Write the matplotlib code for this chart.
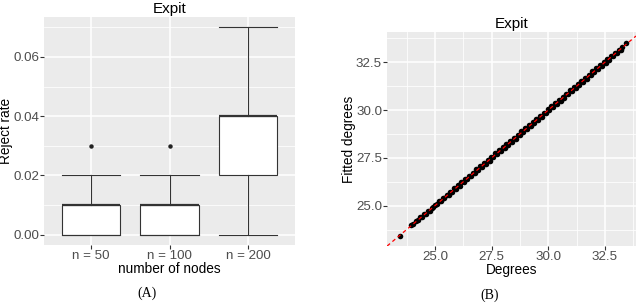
import matplotlib
matplotlib.use("Agg")
import matplotlib.pyplot as plt
from matplotlib.ticker import MultipleLocator

plt.rcParams["font.family"] = ["Liberation Sans", "DejaVu Sans"]

# panel A: reject rate box summaries
groups = ["n = 50", "n = 100", "n = 200"]
whis_lo = [0.00, 0.00, 0.00]
q1 = [0.00, 0.00, 0.02]
median = [0.01, 0.01, 0.04]
q3 = [0.01, 0.01, 0.04]
whis_hi = [0.02, 0.02, 0.07]
outliers = [[0.03], [0.03], []]

# panel B: degrees vs fitted degrees
degrees = [23.45, 23.95, 24.05, 24.18, 24.27, 24.35, 24.44, 24.52, 24.61, 24.68,
           24.77, 24.85, 24.93, 25.02, 25.10, 25.19, 25.26, 25.35, 25.42, 25.51,
           25.60, 25.67, 25.76, 25.84, 25.92, 26.01, 26.09, 26.17, 26.26, 26.34,
           26.42, 26.50, 26.59, 26.67, 26.75, 26.83, 26.92, 27.00, 27.08, 27.16,
           27.25, 27.33, 27.41, 27.49, 27.58, 27.66, 27.74, 27.82, 27.91, 27.99,
           28.07, 28.15, 28.24, 28.32, 28.40, 28.48, 28.57, 28.65, 28.73, 28.81,
           28.90, 28.98, 29.06, 29.14, 29.23, 29.31, 29.39, 29.47, 29.56, 29.64,
           29.72, 29.80, 29.89, 29.97, 30.05, 30.13, 30.22, 30.30, 30.38, 30.46,
           30.55, 30.63, 30.71, 30.79, 30.88, 30.96, 31.04, 31.12, 31.21, 31.29,
           31.37, 31.45, 31.54, 31.62, 31.70, 31.78, 31.87, 31.95, 32.03, 32.11,
           32.20, 32.28, 32.36, 32.44, 32.53, 32.61, 32.69, 32.77, 32.86, 32.94,
           33.02, 33.10, 33.19, 33.27, 33.45]
fitted = [23.42, 24.00, 24.02, 24.22, 24.25, 24.40, 24.41, 24.57, 24.58, 24.72,
          24.74, 24.90, 24.91, 25.06, 25.07, 25.24, 25.22, 25.40, 25.39, 25.57,
          25.56, 25.72, 25.73, 25.90, 25.88, 26.06, 26.05, 26.23, 26.22, 26.40,
          26.38, 26.56, 26.54, 26.73, 26.70, 26.90, 26.87, 27.06, 27.03, 27.23,
          27.20, 27.40, 27.36, 27.56, 27.52, 27.73, 27.69, 27.89, 27.85, 28.06,
          28.02, 28.22, 28.18, 28.39, 28.35, 28.55, 28.51, 28.72, 28.67, 28.88,
          28.84, 29.05, 29.00, 29.21, 29.17, 29.38, 29.33, 29.54, 29.50, 29.71,
          29.66, 29.87, 29.83, 30.04, 29.99, 30.20, 30.16, 30.37, 30.32, 30.53,
          30.49, 30.70, 30.65, 30.86, 30.82, 31.03, 30.98, 31.19, 31.15, 31.36,
          31.31, 31.52, 31.48, 31.69, 31.64, 31.85, 31.81, 32.02, 31.97, 32.18,
          32.14, 32.35, 32.30, 32.51, 32.47, 32.67, 32.64, 32.83, 32.81, 32.99,
          32.98, 33.14, 33.16, 33.30, 33.50]

W, H = 640, 303
BG = "#EBEBEB"
TICK = "#4D4D4D"
FS_TICK = 9.6
FS_LAB = 9.8
FS_TITLE = 11


def gg_axes(ax):
    ax.set_facecolor(BG)
    for s in ax.spines.values():
        s.set_visible(False)
    ax.grid(True, which="major", color="white", lw=1.1)
    ax.grid(True, which="minor", color="white", lw=0.55)
    ax.set_axisbelow(True)
    ax.tick_params(which="major", length=2.7, width=0.8, color="#333333",
                   labelcolor=TICK, labelsize=FS_TICK, pad=0.6)
    ax.tick_params(which="minor", length=0)


fig = plt.figure(figsize=(W / 100, H / 100), dpi=100)

# ---- (A) boxplot
ax1 = fig.add_axes([44 / W, 1 - 245 / H, 251 / W, 228 / H])
gg_axes(ax1)
stats = []
for i, g in enumerate(groups):
    stats.append(dict(label=g, whislo=whis_lo[i], q1=q1[i], med=median[i],
                      q3=q3[i], whishi=whis_hi[i], fliers=outliers[i]))
pos = list(range(1, len(groups) + 1))
ax1.bxp(stats, positions=pos, widths=0.75, patch_artist=True,
        boxprops=dict(facecolor="white", edgecolor="#333333", lw=0.8),
        medianprops=dict(color="#333333", lw=1.6),
        whiskerprops=dict(color="#333333", lw=0.8),
        capprops=dict(color="#333333", lw=0.8), capwidths=0.75,
        flierprops=dict(marker="o", markersize=2.2, markerfacecolor="#222222",
                        markeredgecolor="#222222"))
ax1.set_xlim(0.4, 3.6)
ax1.set_ylim(-0.0035, 0.0735)
ax1.yaxis.set_minor_locator(MultipleLocator(0.01))
ax1.set_yticks([0, 0.02, 0.04, 0.06])
ax1.set_yticklabels(["0.00", "0.02", "0.04", "0.06"])
ax1.set_xticks(pos)
ax1.set_xticklabels(groups)
ax1.set_title("Expit", fontsize=FS_TITLE, pad=3)
ax1.set_xlabel("number of nodes", fontsize=FS_LAB, labelpad=0)
ax1.set_ylabel("Reject rate", fontsize=FS_LAB, labelpad=0)
fig.text(147 / W, 1 - 293 / H, "(A)", family="Liberation Serif", fontsize=10,
         ha="center", va="center")

# ---- (B) scatter with identity line
ax2 = fig.add_axes([386.7 / W, 1 - 246 / H, 249.3 / W, 214 / H])
gg_axes(ax2)
ax2.scatter(degrees, fitted, s=16, color="black", lw=0, zorder=2)
ax2.axline((25, 25), slope=1, color="red", lw=0.9, ls=(0, (3, 2.5)), zorder=3)
ax2.set_xlim(22.87, 33.87)
ax2.set_ylim(22.89, 34.08)
for axis in (ax2.xaxis, ax2.yaxis):
    axis.set_minor_locator(MultipleLocator(1.25))
ax2.set_xticks([25, 27.5, 30, 32.5])
ax2.set_yticks([25, 27.5, 30, 32.5])
ax2.set_xticklabels(["25.0", "27.5", "30.0", "32.5"])
ax2.set_yticklabels(["25.0", "27.5", "30.0", "32.5"])
ax2.set_title("Expit", fontsize=FS_TITLE, pad=3)
ax2.set_xlabel("Degrees", fontsize=FS_LAB, labelpad=0)
ax2.set_ylabel("Fitted degrees", fontsize=FS_LAB, labelpad=0)
fig.text(490 / W, 1 - 295 / H, "(B)", family="Liberation Serif", fontsize=10,
         ha="center", va="center")

fig.savefig("out.png", dpi=100)
